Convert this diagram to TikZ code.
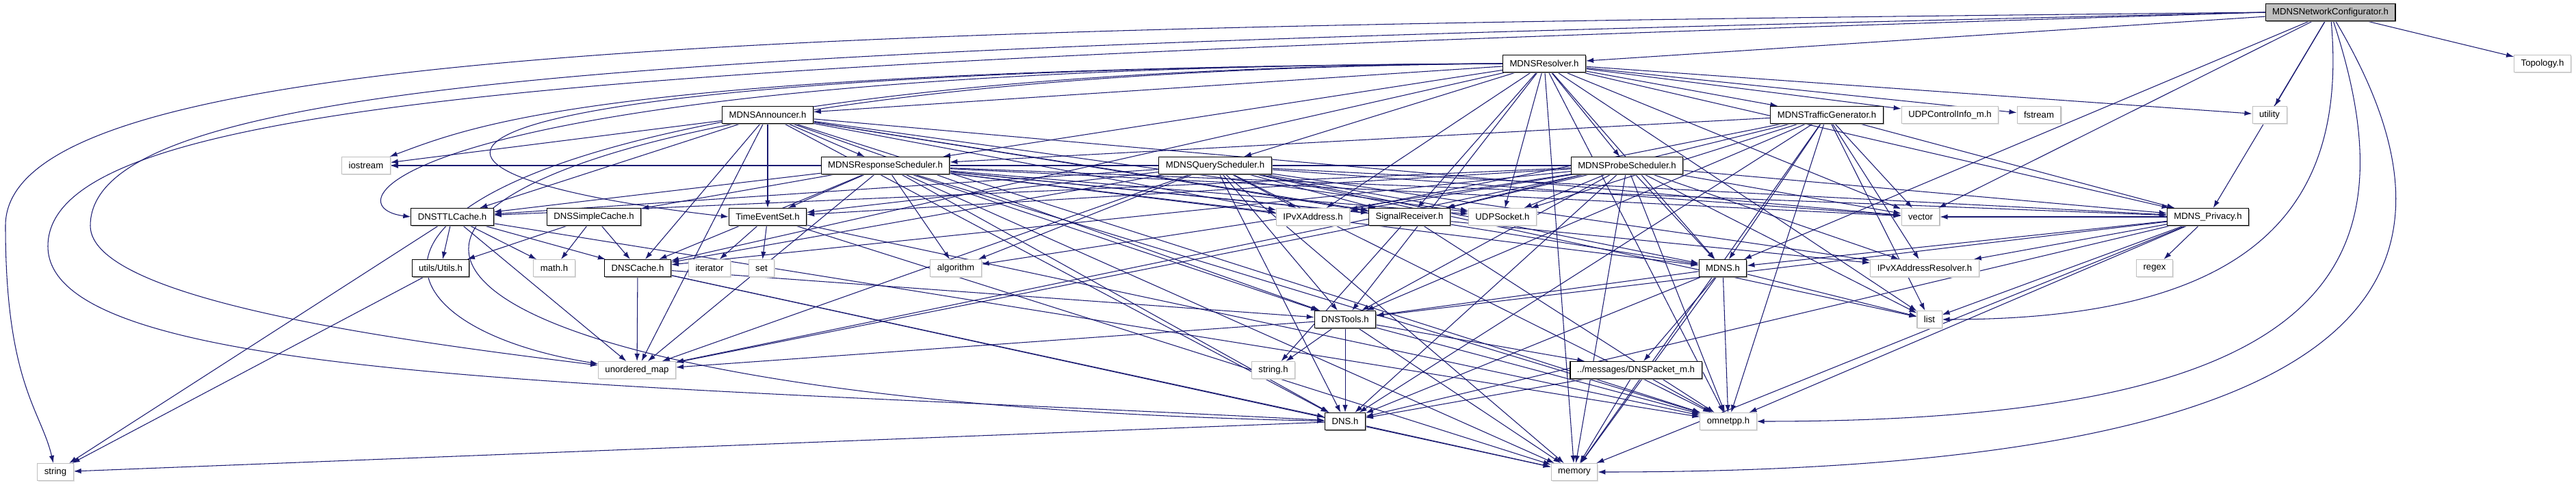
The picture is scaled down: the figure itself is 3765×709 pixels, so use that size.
\documentclass[tikz,border=0pt]{standalone}
\usepackage{fontspec}
\setmainfont{Liberation Sans}
\usetikzlibrary{arrows.meta, shadows, backgrounds}

\definecolor{edgeblue}{HTML}{191970}
\definecolor{boxgray}{HTML}{BFBFBF}

\begin{document}
\begin{tikzpicture}[
    x=0.02cm, y=-0.02cm, % one unit is one pixel of the reference
    >={Latex[length=0.22cm, width=0.15cm]},
    box/.style={fill=white, line width=0.6pt, minimum height=0.5cm,
        inner xsep=0.2cm, inner ysep=0pt, font=\fontsize{7.5}{9}\selectfont},
    hdr/.style={box, draw=black,
        drop shadow={shadow xshift=0.03cm, shadow yshift=-0.03cm, fill=gray!80, opacity=1}},
    syshdr/.style={box, draw=boxgray,
        drop shadow={shadow xshift=0.03cm, shadow yshift=-0.03cm, fill=gray!25, opacity=1}},
    root/.style={hdr, fill=boxgray},
    dep/.style={->, draw=edgeblue, line width=0.6pt}
]
\useasboundingbox (0,0) rectangle (3765,709);

% Row 0 and 1
\node[root]   (nc)   at (3406,18)  {MDNSNetworkConfigurator.h};
\node[hdr]    (res)  at (2257,93)  {MDNSResolver.h};
\node[syshdr] (topo) at (3716,93)  {Topology.h};

% Row 2
\node[hdr]    (ann)   at (1122,168) {MDNSAnnouncer.h};
\node[hdr]    (tgen)  at (2670,168) {MDNSTrafficGenerator.h};
\node[syshdr] (udpci) at (2850,168) {UDPControlInfo\_m.h};
\node[syshdr] (fstr)  at (2980,168) {fstream};
\node[syshdr] (util)  at (3317,168) {utility};

% Row 3: schedulers
\node[syshdr] (ios)  at (535,242)  {iostream};
\node[hdr]    (rsch) at (1294,242) {MDNSResponseScheduler.h};
\node[hdr]    (qsch) at (1776,242) {MDNSQueryScheduler.h};
\node[hdr]    (psch) at (2378,242) {MDNSProbeScheduler.h};

% Row 4
\node[hdr]    (ttl)  at (661,317)  {DNSTTLCache.h};
\node[hdr]    (simp) at (868,317)  {DNSSimpleCache.h};
\node[hdr]    (tes)  at (1122,317) {TimeEventSet.h};
\node[syshdr] (ipvx) at (1919,317) {IPvXAddress.h};
\node[hdr]    (sig)  at (2060,317) {SignalReceiver.h};
\node[syshdr] (udps) at (2196,317) {UDPSocket.h};
\node[syshdr] (vec)  at (2807,317) {vector};
\node[hdr]    (priv) at (3227,317) {MDNS\_Privacy.h};

% Row 5
\node[hdr]    (utils)  at (644,392)  {utils/Utils.h};
\node[syshdr] (mathh)  at (810,392)  {math.h};
\node[hdr]    (cache)  at (932,392)  {DNSCache.h};
\node[syshdr] (iter)   at (1037,392) {iterator};
\node[syshdr] (sethdr) at (1113,392) {set};
\node[syshdr] (algo)   at (1397,392) {algorithm};
\node[hdr]    (mdns)   at (2518,392) {MDNS.h};
\node[syshdr] (resolv) at (2813,392) {IPvXAddressResolver.h};
\node[syshdr] (regex)  at (3149,392) {regex};

% Rows 6 to 9
\node[hdr]    (tools) at (1966,467) {DNSTools.h};
\node[syshdr] (list)  at (2820,467) {list};
\node[syshdr] (umap)  at (931,541)  {unordered\_map};
\node[syshdr] (strh)  at (1861,541) {string.h};
\node[hdr]    (pkt)   at (2391,541) {../messages/DNSPacket\_m.h};
\node[hdr]    (dns)   at (1966,616) {DNS.h};
\node[syshdr] (omn)   at (2526,616) {omnetpp.h};
\node[syshdr] (str)   at (81,690)   {string};
\node[syshdr] (mem)   at (2301,690) {memory};

\begin{scope}[on background layer]
% MDNSNetworkConfigurator.h
\foreach \t in {res,topo,util,vec,priv,mdns}
    \draw[dep] (nc) -- (\t);
\draw[dep] (nc.west) .. controls (1200,40) and (8,60) .. (8,330) .. controls (8,560) and (60,600) .. (str);
\draw[dep] (nc.west) .. controls (1100,70) and (132,100) .. (132,330) .. controls (132,440) and (600,500) .. (umap);
\draw[dep] (nc.west) .. controls (1000,90) and (70,130) .. (70,360) .. controls (70,560) and (900,560) .. (dns);
\draw[dep] (nc) .. controls (3431,300) and (3300,467) .. (list);
\draw[dep] (nc) .. controls (3532,400) and (3400,616) .. (omn);
\draw[dep] (nc) .. controls (3633,400) and (3500,690) .. (mem);

% MDNSResolver.h
\foreach \t in {ann,tgen,udpci,fstr,util,rsch,qsch,psch,sig,udps,ipvx,vec,priv,mdns,list,omn,mem,cache,tools}
    \draw[dep] (res) -- (\t);
\draw[dep] (res.west) .. controls (900,100) and (700,180) .. (ios);
\draw[dep] (res.west) .. controls (600,98) and (470,300) .. (ttl.west);
\draw[dep] (res.west) .. controls (520,102) and (470,250) .. (tes.west);
\draw[dep] (res.west) .. controls (430,106) and (430,460) .. (umap);
\draw[dep] (res.west) .. controls (260,110) and (200,580) .. (dns);

% MDNSAnnouncer.h
\foreach \t in {ios,rsch,tes,ttl,cache,umap,dns,tools,omn,vec,ipvx,udps,sig,mdns}
    \draw[dep] (ann) -- (\t);

% schedulers
\foreach \t in {ios,ttl,simp,tes,cache,algo,umap,dns,tools,omn,mem,vec,ipvx,udps,sig,mdns,priv,resolv}
    \draw[dep] (rsch) -- (\t);
\foreach \t in {ios,ttl,tes,cache,algo,umap,dns,tools,omn,mem,vec,ipvx,udps,sig,mdns,priv,resolv,list}
    \draw[dep] (qsch) -- (\t);
\foreach \t in {ios,ttl,tes,cache,algo,umap,dns,tools,omn,mem,vec,ipvx,udps,sig,mdns,priv,resolv,list}
    \draw[dep] (psch) -- (\t);

% MDNSTrafficGenerator.h
\foreach \t in {rsch,ipvx,sig,udps,vec,priv,mdns,list,omn,dns,tools,resolv,mem}
    \draw[dep] (tgen) -- (\t);

% caches and helpers
\foreach \t in {utils,mathh,cache,str,umap,omn}
    \draw[dep] (ttl) -- (\t);
\foreach \t in {utils,mathh,cache}
    \draw[dep] (simp) -- (\t);
\foreach \t in {iter,sethdr,omn,mem}
    \draw[dep] (tes) -- (\t);
\foreach \t in {umap,dns,tools,mem}
    \draw[dep] (cache) -- (\t);
\draw[dep] (utils) -- (str);
\foreach \t in {strh,omn,umap}
    \draw[dep] (sig) -- (\t);
\foreach \t in {regex,list,mdns,resolv,dns,tools,omn,mem,vec}
    \draw[dep] (priv) -- (\t);
\foreach \t in {list,tools,pkt,dns,omn,mem}
    \draw[dep] (mdns) -- (\t);
\foreach \t in {strh,dns,pkt,mem,umap,omn}
    \draw[dep] (tools) -- (\t);
\foreach \t in {dns,mem,omn}
    \draw[dep] (pkt) -- (\t);
\foreach \t in {str,mem}
    \draw[dep] (dns) -- (\t);
\end{scope}

\end{tikzpicture}
\end{document}
